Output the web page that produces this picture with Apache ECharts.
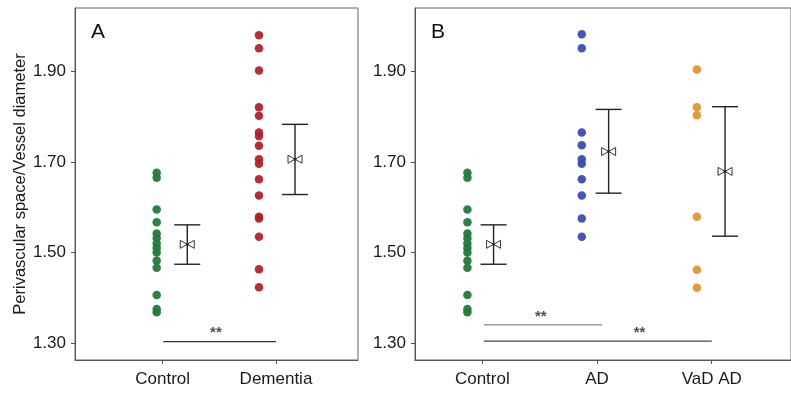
<!DOCTYPE html>
<html>
<head>
<meta charset="utf-8">
<script src="https://cdn.jsdelivr.net/npm/echarts@6/dist/echarts.min.js"></script>
<style>
  html, body { margin: 0; padding: 0; background: #fff; }
  #chart { width: 791px; height: 393px; }
</style>
</head>
<body>
<div id="chart"></div>
<script>
// values
const controlVals = [1.676, 1.665, 1.595, 1.567, 1.542, 1.532, 1.520, 1.510, 1.500, 1.482, 1.466, 1.406, 1.375, 1.368];
const dementiaVals = [1.980, 1.951, 1.902, 1.821, 1.802, 1.765, 1.757, 1.736, 1.706, 1.696, 1.662, 1.626, 1.579, 1.575, 1.535, 1.463, 1.423];
const adVals = [1.982, 1.951, 1.765, 1.737, 1.706, 1.696, 1.662, 1.626, 1.575, 1.535];
const vadVals = [1.904, 1.821, 1.803, 1.579, 1.462, 1.422];

const catsA = ["Control", "Dementia"];
const catsB = ["Control", "AD", "VaD AD"];
const yTicks = [1.3, 1.5, 1.7, 1.9];

// mean / lower / upper of the error bars
const meanA = [1.518, 1.706];
const lowA = [1.474, 1.628];
const highA = [1.561, 1.783];
const meanB = [1.518, 1.723, 1.679];
const lowB = [1.474, 1.631, 1.536];
const highB = [1.561, 1.816, 1.822];

// column positions on the x scale (category k sits at k+1)
const dotXA = [0.947, 1.85];
const barXA = [1.217, 2.168];
const dotXB = [0.87, 1.867, 2.87];
const barXB = [1.098, 2.101, 3.116];

// significance bars: from, to, height, label x
const sigA = [[1.005, 2.0, 1.303, 1.47]];
const sigB = [[1.015, 2.045, 1.340, 1.51], [1.015, 3.0, 1.304, 2.37]];

const chart = echarts.init(document.getElementById("chart"));
const font = "Liberation Sans, Arial, sans-serif";
const axisCol = "#555";

function xAxisFor(grid, cats, min, max) {
  const vals = cats.map((c, i) => i + 1);
  return {
    type: "value", gridIndex: grid, min: min, max: max,
    splitLine: {show: false},
    axisLine: {lineStyle: {color: axisCol, width: 1}},
    axisTick: {show: true, length: 4, customValues: vals, lineStyle: {color: axisCol}},
    axisLabel: {
      customValues: vals, margin: 11, color: "#1a1a1a", fontSize: 17, fontFamily: font,
      formatter: v => cats[Math.round(v) - 1] || ""
    }
  };
}

function yAxisFor(grid, name) {
  return {
    type: "value", gridIndex: grid, min: 1.2625, max: 2.04,
    name: name, nameLocation: "middle", nameGap: 46,
    nameTextStyle: {color: "#1a1a1a", fontSize: 16.5, fontFamily: font},
    splitLine: {show: false},
    axisLine: {show: true, lineStyle: {color: axisCol, width: 1}},
    axisTick: {show: true, length: 4, customValues: yTicks, lineStyle: {color: axisCol}},
    axisLabel: {
      customValues: yTicks, margin: 9, color: "#1a1a1a", fontSize: 17, fontFamily: font,
      formatter: v => v.toFixed(2)
    }
  };
}

function dots(xi, yi, x, vals, color) {
  return {
    type: "scatter", xAxisIndex: xi, yAxisIndex: yi,
    symbolSize: 8.5, itemStyle: {color: color, opacity: 0.95},
    data: vals.map(v => [x, v]), z: 3
  };
}

function renderErr(params, api) {
  const x = api.value(0);
  const c = api.coord([x, api.value(1)]);
  const b = api.coord([x, api.value(2)]);
  const t = api.coord([x, api.value(3)]);
  const st = {stroke: "#222", lineWidth: 1.4};
  const w = 13, bw = 7, bh = 4;
  return {
    type: "group",
    children: [
      {type: "line", shape: {x1: c[0], y1: t[1], x2: c[0], y2: b[1]}, style: st},
      {type: "line", shape: {x1: c[0] - w, y1: t[1], x2: c[0] + w, y2: t[1]}, style: st},
      {type: "line", shape: {x1: c[0] - w, y1: b[1], x2: c[0] + w, y2: b[1]}, style: st},
      {type: "polygon", shape: {points: [[c[0] - bw, c[1] - bh], [c[0], c[1]], [c[0] - bw, c[1] + bh]]},
        style: {fill: "#fff", stroke: "#333", lineWidth: 1}},
      {type: "polygon", shape: {points: [[c[0] + bw, c[1] - bh], [c[0], c[1]], [c[0] + bw, c[1] + bh]]},
        style: {fill: "#fff", stroke: "#333", lineWidth: 1}},
      {type: "circle", shape: {cx: c[0], cy: c[1], r: 1.3}, style: {fill: "#222"}}
    ]
  };
}

function errSeries(i, xs, m, lo, hi) {
  return {
    type: "custom", xAxisIndex: i, yAxisIndex: i, renderItem: renderErr, z: 4,
    data: xs.map((x, k) => [x, m[k], lo[k], hi[k]])
  };
}

function sigSeries(i, sig, colors) {
  const out = [];
  sig.forEach((s, k) => {
    out.push({
      type: "line", xAxisIndex: i, yAxisIndex: i, showSymbol: false, silent: true,
      lineStyle: {color: colors[k], width: 1.2},
      data: [[s[0], s[2]], [s[1], s[2]]]
    });
    out.push({
      type: "scatter", xAxisIndex: i, yAxisIndex: i, symbolSize: 0, silent: true,
      label: {show: true, position: "top", distance: 1, formatter: "**",
        color: "#222", fontSize: 15, fontWeight: "bold", fontFamily: font},
      data: [[s[3], s[2]]]
    });
  });
  return out;
}

chart.setOption({
  animation: false,
  grid: [
    {left: 75, top: 8, width: 283, height: 352, show: true, borderColor: "#666", borderWidth: 1},
    {left: 415, top: 8, right: -2, height: 352, show: true, borderColor: "#666", borderWidth: 1}
  ],
  xAxis: [
    xAxisFor(0, catsA, 0.226, 2.724),
    xAxisFor(1, catsB, 0.413, 3.691)
  ],
  yAxis: [
    yAxisFor(0, "Perivascular space/Vessel diameter"),
    yAxisFor(1, "")
  ],
  graphic: [
    {type: "text", left: 91, top: 22, style: {text: "A", fontSize: 21, fill: "#111", fontFamily: font}},
    {type: "text", left: 431, top: 22, style: {text: "B", fontSize: 21, fill: "#111", fontFamily: font}}
  ],
  series: [
    dots(0, 0, dotXA[0], controlVals, "#237a3b"),
    dots(0, 0, dotXA[1], dementiaVals, "#b3232b"),
    dots(1, 1, dotXB[0], controlVals, "#237a3b"),
    dots(1, 1, dotXB[1], adVals, "#3c4db3"),
    dots(1, 1, dotXB[2], vadVals, "#e0962f"),
    errSeries(0, barXA, meanA, lowA, highA),
    errSeries(1, barXB, meanB, lowB, highB),
    ...sigSeries(0, sigA, ["#333"]),
    ...sigSeries(1, sigB, ["#888", "#444"])
  ]
});
</script>
</body>
</html>
